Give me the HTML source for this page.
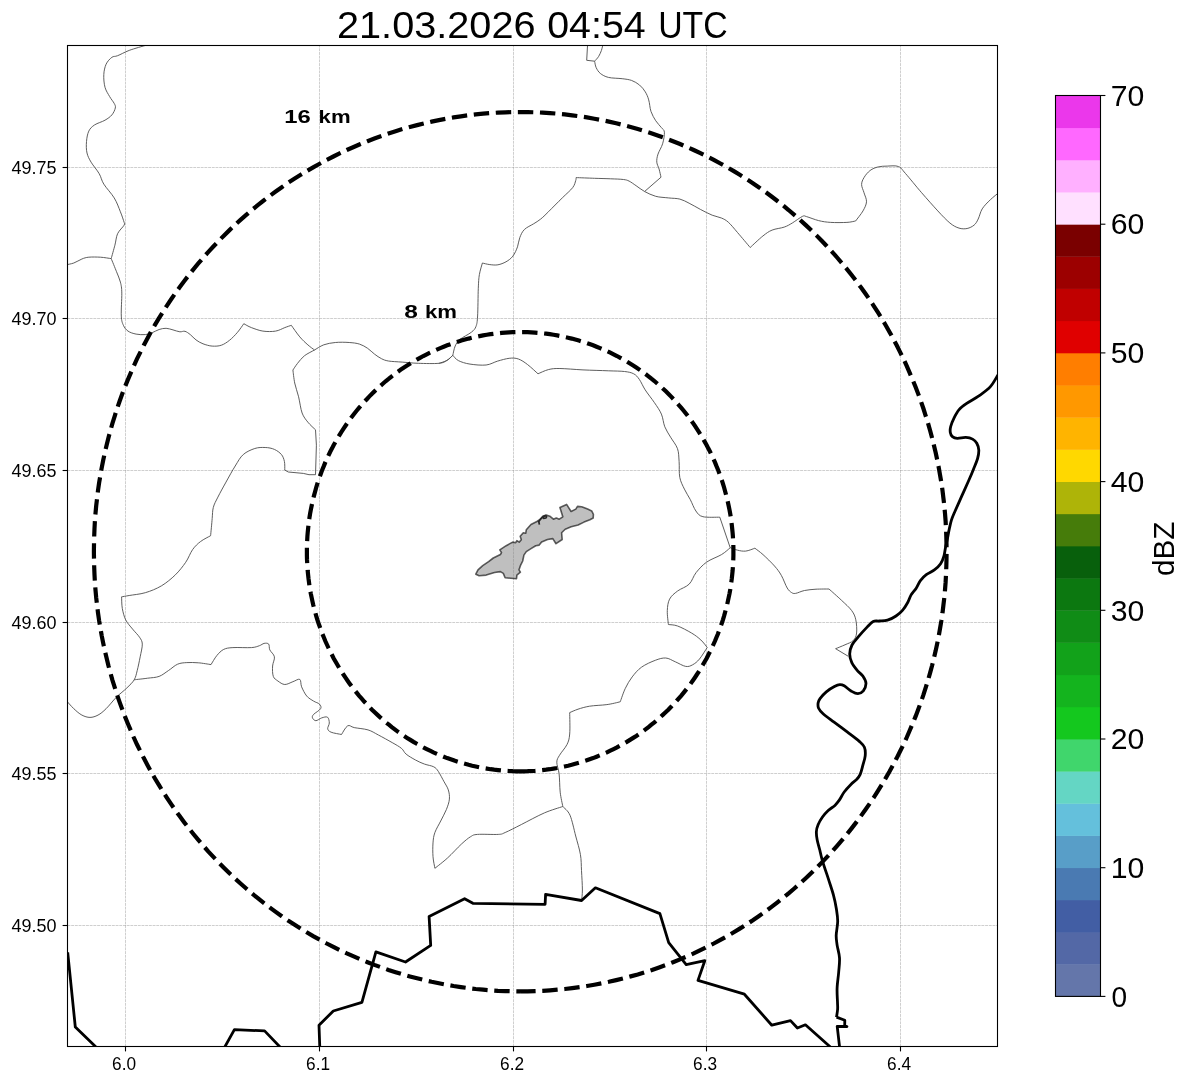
<!DOCTYPE html>
<html><head><meta charset="utf-8"><title>Radar 21.03.2026 04:54 UTC</title>
<style>html,body{margin:0;padding:0;background:#fff;}body{width:1188px;height:1084px;overflow:hidden;font-family:"Liberation Sans",sans-serif;}svg{display:block;will-change:transform;}text{font-family:"Liberation Sans",sans-serif;fill:#000;}</style>
</head><body>
<svg width="1188" height="1084" viewBox="0 0 1188 1084">
<rect x="0" y="0" width="1188" height="1084" fill="#ffffff"/>
<defs><clipPath id="ax"><rect x="67.5" y="45.5" width="930" height="1001"/></clipPath></defs>
<g stroke="#808080" stroke-width="0.7" stroke-dasharray="2.9 0.8" stroke-opacity="0.55" fill="none">
<path d="M125.5 1046.5 V45.5"/>
<path d="M319.5 1046.5 V45.5"/>
<path d="M513.5 1046.5 V45.5"/>
<path d="M706.5 1046.5 V45.5"/>
<path d="M900.5 1046.5 V45.5"/>
<path d="M67.5 925.5 H997.5"/>
<path d="M67.5 773.5 H997.5"/>
<path d="M67.5 622.5 H997.5"/>
<path d="M67.5 470.5 H997.5"/>
<path d="M67.5 318.5 H997.5"/>
<path d="M67.5 167.5 H997.5"/>
</g>
<g clip-path="url(#ax)">
<g stroke="#4c4c4c" stroke-width="0.9" fill="none" stroke-linejoin="round">
<path d="M146.5 45.1 C143.6 46 134 48.6 129.2 50.4 C124.4 52.2 120.5 54.6 117.6 55.7 C114.7 56.9 113.8 55.9 111.9 57.3 C110 58.7 107.4 61.3 106.1 64.2 C104.8 67.1 104 70.8 103.8 74.6 C103.6 78.4 104 83.6 105 87.3 C106 91 108.1 93.8 109.6 96.5 C111.1 99.2 113.2 101.5 114.2 103.4 C115.2 105.3 115.7 106.1 115.3 108 C114.9 109.9 113.6 112.9 111.9 114.9 C110.2 116.9 107.9 118.5 105 120.2 C102.1 121.9 97.3 123.1 94.6 124.9 C91.9 126.7 90.1 128.3 88.8 131.1 C87.5 133.9 86.8 137.8 86.5 141.5 C86.2 145.2 86.2 149.6 87 153 C87.8 156.4 89.1 158.8 91.1 162.2 C93.1 165.6 97.1 170 99.2 173.7 C101.3 177.3 101.3 180.1 103.8 184.1 C106.3 188.1 111.4 193.3 114.2 197.9 C117 202.5 118.8 207.8 120.4 211.8 C122.1 215.9 123.5 220.5 124.1 222.2"/>
<path d="M124.1 222.2 C124.1 222.7 125.2 223.3 124.1 225.2 C123 227.1 119.1 230.4 117.6 233.7 C116.1 237 116 241 114.9 245.2 C113.8 249.3 111.8 256.4 111.2 258.6"/>
<path d="M111.2 258.6 C109.4 258.4 104.1 257.4 100.4 257.2 C96.7 257 91.9 256.9 88.8 257.2 C85.7 257.5 84.4 258 81.9 259 C79.4 260 76.5 262 73.8 263 C71.1 264 67.3 264.5 66 264.8"/>
<path d="M111.2 258.6 C112.1 260.8 115 267.8 116.5 271.7 C118 275.6 119.5 278.5 120.4 282.1 C121.3 285.7 121.7 287.4 121.8 293.1 C121.9 298.8 121 310.7 121.3 316.1 C121.6 321.5 122.3 322.8 123.4 325.3 C124.5 327.8 125.9 329.6 128 331.1 C130.1 332.6 133.2 333.5 136.1 334.1 C139 334.7 142.6 334.8 145.3 334.6 C148 334.4 149.9 333.6 152.2 332.7 C154.5 331.8 156.8 330.2 159.1 329.5 C161.4 328.8 163.8 328.2 166.1 328.3 C168.4 328.4 170.7 329.3 173 329.9 C175.3 330.5 177.9 331.6 179.9 331.8 C181.9 332 183.3 330.8 185 331.3 C186.7 331.8 188.5 333.2 190.3 334.6 C192.1 336 193.9 338.4 196 339.9 C198.1 341.4 200.3 342.8 203 343.8 C205.7 344.8 209.1 345.9 212.2 346.1 C215.3 346.3 218.5 346.2 221.4 345.2 C224.3 344.2 226.8 342.4 229.5 340.3 C232.2 338.2 235.1 335.1 237.5 332.3 C239.9 329.5 242.8 325.1 243.8 323.7"/>
<path d="M243.8 323.7 C245.1 324.4 248.2 326.4 251.4 327.6 C254.6 328.8 258.9 330.5 262.9 331.1 C266.9 331.7 272 331.7 275.6 331.1 C279.2 330.5 282.2 328.6 284.8 327.6 C287.4 326.6 290.2 325.7 291.3 325.3"/>
<path d="M291.3 325.3 C292.7 327.2 297 333.6 299.8 336.9 C302.6 340.2 305.4 342.7 307.9 344.9 C310.3 347.1 313.4 349.1 314.5 350"/>
<path d="M314.5 350 C316.1 349.1 320.3 346.1 323.8 344.8 C327.3 343.6 331.1 342.9 335.3 342.5 C339.5 342.1 345.2 342.2 349.2 342.5 C353.2 342.8 356.4 343.1 359.5 344.1 C362.6 345.1 365.1 346.6 367.6 348.3 C370.1 350 372.2 352.4 374.5 354.1 C376.8 355.8 379.2 357.6 381.5 358.7 C383.8 359.8 384.9 360.4 388.4 361 C391.8 361.6 397.2 361.7 402.2 362.1 C407.2 362.5 412.1 363.1 418.3 363.3 C424.5 363.5 434.3 363.8 439.1 363.3 C443.9 362.8 444.9 361.6 447.2 360.3 C449.5 359 451.9 356.1 452.8 355.3"/>
<path d="M314.5 350 C312.8 351 307.2 353.6 304.4 355.8 C301.6 358 299.4 361 297.5 363.4 C295.6 365.8 293.7 368.9 292.9 370"/>
<path d="M292.9 370 C293.2 372.2 293.8 378.5 294.7 383 C295.6 387.5 297.4 391.8 298.6 396.8 C299.8 401.8 300.6 408.8 302.1 413 C303.7 417.2 305.7 419.4 307.9 422.2 C310.1 425 314.2 428.5 315.5 429.8"/>
<path d="M315.5 429.8 L316.4 445.2 L315.5 474.7 L309 474.7 L303.3 473.4 L288.3 472 L284.8 470.1"/>
<path d="M284.8 470.1 C284.7 468.7 285 464 284.4 461.4 C283.8 458.8 283.1 456.5 281.4 454.5 C279.7 452.5 277.1 450.6 274.4 449.4 C271.7 448.2 268.5 447.6 265.2 447.5 C261.9 447.4 258.4 447.3 254.8 448.5 C251.2 449.7 246.6 451.6 243.3 454.5 C240 457.4 238.1 461.4 235.2 466 C232.3 470.6 228.9 476.9 226 482.1 C223.1 487.3 220 492.9 217.9 497.1 C215.8 501.3 214.2 503.9 213.3 507.5 C212.4 511.1 212.6 513.7 212.2 518.4 C211.8 523.1 210.9 532.8 210.6 535.7"/>
<path d="M210.6 535.7 C208.9 536.7 203.6 539.2 200.6 541.5 C197.6 543.8 195.1 546.1 192.6 549.6 C190.1 553.1 188.6 558.1 185.7 562.3 C182.8 566.5 179.3 571 175.3 574.9 C171.3 578.8 166.5 582.8 161.5 585.8 C156.5 588.8 150.7 591.1 145.3 592.7 C139.9 594.3 133.1 594.8 129.2 595.5 C125.2 596.2 122.9 596.6 121.6 596.8"/>
<path d="M121.6 596.8 C121.7 598.7 121.6 604.5 122.3 608.4 C123 612.2 124 616.4 125.7 619.9 C127.4 623.4 130.3 626.2 132.6 629.1 C134.9 632 137.9 634.7 139.5 637.2 C141.1 639.7 142.2 640.8 142.3 644.1 C142.4 647.4 141 652.4 140.2 656.8 C139.3 661.2 138.2 666.8 137.2 670.6 C136.2 674.4 135.9 676.9 134.2 679.8 C132.5 682.7 129.8 685 126.9 687.9 C124 690.8 120 693.6 116.5 697.1 C113 700.6 109.2 705.7 106.1 708.7 C103 711.7 100.7 713.7 98 715.1 C95.3 716.5 92.7 717.4 90 717.4 C87.3 717.4 84.6 716.5 81.9 715.1 C79.2 713.7 76.5 711.2 73.8 708.7 C71.1 706.2 67.3 701.6 66 700.2"/>
<path d="M134.2 679.8 C136.4 679.5 143.4 678.8 147.6 678.2 C151.8 677.6 155.6 677.7 159.1 676.4 C162.6 675.1 165.3 672.6 168.4 670.6 C171.5 668.6 174.5 665.5 177.6 664.2 C180.7 662.9 183.4 662.8 186.8 662.6 C190.2 662.4 194.3 662.5 198.3 662.8 C202.3 663.1 208.9 664.3 211 664.6"/>
<path d="M211 664.6 C212 663.1 214.7 658.1 216.8 655.6 C218.9 653.1 221 650.7 223.7 649.4 C226.4 648.1 228.3 647.9 232.9 647.6 C237.5 647.3 247 647.9 251.4 647.6 C255.8 647.3 257.3 646.4 259.4 645.7 C261.5 645 262.6 643.7 264.1 643.4 C265.7 643.1 267.8 643 268.7 644.1 C269.6 645.2 268.9 647.8 269.8 649.9 C270.8 652 273.9 654.1 274.4 656.8 C274.9 659.5 272.8 662.7 272.6 666 C272.4 669.3 272.4 673.9 273.3 676.4 C274.2 678.9 276 679.6 277.9 681 C279.8 682.4 282.3 684.4 284.8 684.5 C287.3 684.6 290.4 682.6 292.9 681.7 C295.4 680.9 298.4 678.5 299.8 679.4 C301.2 680.2 300.5 684 301.6 686.8 C302.8 689.6 304.7 693.6 306.7 696 C308.7 698.4 311.5 699.8 313.6 701.1 C315.7 702.5 318.2 702.8 319.4 704.1 C320.6 705.4 321.6 707 320.6 708.7 C319.6 710.4 315 712.9 313.6 714.4 C312.2 715.9 312.1 716.8 312.5 717.9 C312.9 719 314.4 720.7 315.9 720.7 C317.4 720.7 319.8 718.5 321.7 717.9 C323.6 717.3 326.2 716.4 327.5 717.2 C328.8 718.1 329.3 721.1 329.3 723 C329.3 724.9 327.4 727.3 327.7 728.8 C328 730.3 328.8 731.2 331.1 732.2 C333.4 733.2 339.8 734.1 341.5 734.5"/>
<path d="M341.5 734.5 C342.5 733 345.6 726.9 347.7 725.8 C349.8 724.6 350.8 726.9 354.2 727.6 C357.6 728.3 364 728.7 368 729.9 C372 731.1 374.4 732.9 378.4 735 C382.4 737.1 388.3 740.4 392.2 742.6 C396.1 744.8 399.2 746.5 401.5 748.4 C403.8 750.3 403.8 752.2 406.1 754.1 C408.4 756 412.2 758.2 415.3 759.9 C418.4 761.6 421.4 763 424.5 764.1 C427.6 765.2 431.4 765.6 433.7 766.8 C436 768 436.6 768.9 438.3 771.4 C440 773.9 442.4 778.7 444.1 781.8 C445.8 784.9 447.4 787 448.3 789.9 C449.2 792.8 449.7 795.8 449.4 799.1 C449.1 802.4 447.8 805.9 446.4 809.5 C444.9 813.1 442.6 817.2 440.7 821 C438.8 824.8 436.2 828.9 434.9 832.5 C433.6 836.1 433.3 838.9 433 842.9 C432.7 846.9 432.7 852.5 433 856.7 C433.3 860.9 434.6 866.4 434.9 868.3"/>
<path d="M434.9 868.3 C437 866.6 443.2 861.9 447.6 857.9 C452 853.9 457.6 847.6 461.4 844.1 C465.2 840.6 467.9 838.3 470.6 836.7 C473.3 835.1 472.9 834.8 477.5 834.4 C482.1 834 493.7 834.7 498.3 834.4 C502.9 834.1 501.4 834.1 505.2 832.5 C509 830.9 514.9 827.8 521.4 824.5 C527.9 821.2 537.5 815.9 544.4 812.9 C551.3 809.9 559.7 807.6 562.8 806.5"/>
<path d="M730.2 547.7 C728.8 548.9 725.5 552.2 721.5 554.6 C717.5 557 710.7 559.2 706.5 562.2 C702.3 565.2 699 569 696.1 572.6 C693.2 576.2 692.3 581 689.2 584.1 C686.1 587.2 680.9 588.5 677.6 591 C674.3 593.5 671.3 595.8 669.6 599.1 C667.9 602.4 667.5 606.4 667.3 610.6 C667.1 614.8 668.2 622.2 668.4 624.5"/>
<path d="M668.4 624.5 C669.9 624.8 673.8 624.6 677.6 626 C681.5 627.4 687.6 630.7 691.5 633 C695.4 635.3 698.3 637.6 700.9 640 C703.5 642.4 706.2 646.2 707.2 647.5"/>
<path d="M707.2 647.5 C705.9 649.4 701.9 656.1 699.5 659 C697.1 661.9 694.9 663.6 692.6 664.8 C690.3 666 688.6 666.9 685.7 666.4 C682.8 665.9 678.6 663.2 675.3 661.8 C672 660.4 669 658.2 665.7 658 C662.4 657.8 659.3 658.8 655.3 660.3 C651.3 661.8 645.4 664.4 641.5 667.2 C637.6 670 634.9 673.4 632.2 676.9 C629.5 680.4 627.3 684.2 625.3 688.4 C623.3 692.5 621.1 699.6 620.2 701.8"/>
<path d="M620.2 701.8 C618 702.3 612 703.9 606.9 704.6 C601.8 705.3 594.4 705.4 589.6 706.2 C584.8 707 581.3 708.1 578 709.2 C574.7 710.3 571.1 712 569.7 712.6"/>
<path d="M569.7 712.6 C569.7 716.2 570.2 728.7 569.7 734 C569.2 739.3 568.7 741 567 744.5 C565.3 748 561.2 752.3 559.5 755.3 C557.8 758.2 556.9 759.1 556.8 762.2 C556.7 765.3 558.5 768.7 559.1 773.7 C559.7 778.7 559.6 786.7 560.2 792.2 C560.8 797.7 562.4 804.1 562.8 806.5"/>
<path d="M562.8 806.5 C564 808 567.9 810.3 570 815.2 C572.1 820.1 574 829.5 575.7 836 C577.4 842.5 579.4 848.6 580.4 854.4 C581.4 860.2 581.2 864.7 581.5 870.6 C581.8 876.5 582.4 885 582.4 890 C582.4 895 581.7 898.8 581.6 900.5"/>
<path d="M452.8 355.3 C453.2 353.8 454 348.6 455.2 346 C456.4 343.4 457.1 341.8 459.8 339.5 C462.5 337.2 468.7 334.4 471.4 332.2 C474.1 330 475 329.1 476 326.4 C477 323.7 477.2 322.4 477.6 316 C478 309.6 478 295.2 478.3 288.3 C478.6 281.4 478.7 278.7 479.4 274.5 C480.1 270.3 481.9 264.9 482.4 263"/>
<path d="M482.4 263 C483.6 263.3 487.2 264.3 489.8 264.6 C492.4 264.9 495.2 265.3 497.9 264.8 C500.6 264.3 503.5 263.2 506 261.8 C508.5 260.4 511 258.6 512.9 256.1 C514.8 253.6 516.4 249.9 517.5 246.8 C518.6 243.7 518.6 240.5 519.8 237.6 C520.9 234.7 522.1 231.8 524.4 229.5 C526.7 227.2 530.9 225.5 533.6 223.8 C536.3 222.1 538 221.2 540.5 219.2 C543 217.2 544.8 215.4 548.4 211.8 C552 208.2 558.2 201.9 562.3 197.9 C566.3 193.9 570.5 190.5 572.7 187.6 C574.9 184.7 575.1 182.3 575.7 180.6 C576.3 178.9 576 178.1 576.1 177.6"/>
<path d="M576.1 177.6 C579.2 177.7 588.8 178.1 594.6 178.3 C600.4 178.5 605.9 178.6 610.7 178.8 C615.5 179 620.3 179.1 623.4 179.5 C626.5 179.9 627 180.1 629.1 181.1 C631.2 182.1 633.5 184 636.1 185.7 C638.7 187.4 641.3 189.7 644.6 191.5 C647.9 193.3 651.8 195.2 655.7 196.3 C659.7 197.4 664.3 197.4 668.3 197.9 C672.3 198.4 676.4 198.2 679.9 199.1 C683.4 200 685.6 201.5 689.1 203.2 C692.6 204.9 696.8 207.5 700.6 209.5 C704.5 211.5 708.7 213.8 712.2 215.2 C715.7 216.6 718.7 216.8 721.4 218 C724.1 219.2 725.6 219.8 728.3 222.2 C731 224.6 733.9 228.3 737.5 232.5 C741.1 236.7 748.1 245 750.2 247.5"/>
<path d="M750.2 247.5 C752.3 245.6 759.2 238.9 762.9 236 C766.5 233.1 768.5 231.6 772.1 230.1 C775.7 228.6 780.8 228.3 784.2 227.1 C787.6 225.9 789.3 224.8 792.3 223 C795.3 221.2 800 217.5 802.4 216.4 C804.8 215.3 803.8 215.9 806.5 216.6 C809.2 217.3 814.6 219.6 818.6 220.6 C822.6 221.6 826 222.1 830.7 222.4 C835.4 222.7 842.8 222.6 846.9 222.4 C851 222.2 854.1 221.2 855.6 221"/>
<path d="M855.6 221 C856.8 219.3 861.2 214.1 863 210.9 C864.8 207.7 866.3 204.8 866.5 201.8 C866.7 198.8 864.8 195.6 864 192.7 C863.2 189.8 861.6 187.1 861.6 184.6 C861.6 182.1 862.6 179.9 864 177.6 C865.4 175.2 867.7 172.3 870.1 170.5 C872.5 168.7 875.3 167.6 878.2 166.9 C881.1 166.2 883.9 166.2 887.3 166.1 C890.7 166 895.4 165.3 898.4 166.5 C901.4 167.7 901.6 169.1 905.5 173.5 C909.4 177.9 916.2 186.5 921.6 192.7 C927 198.9 933.1 205.8 937.8 210.9 C942.5 216 946.4 220.1 949.9 223 C953.4 225.9 956.1 227.2 959 228.1 C961.9 229 964.6 229 967.1 228.5 C969.6 228 972.2 226.7 974.1 225.1 C976 223.5 976.9 221.7 978.2 219 C979.6 216.3 980.2 212.1 982.2 208.9 C984.2 205.7 987.5 202.5 990.3 199.8 C993.1 197.1 997.5 193.7 999 192.5"/>
<path d="M452.8 355.3 C451.8 356.1 449.2 359.1 446.9 360.4 C444.6 361.7 440.4 362.8 439.1 363.3"/>
<path d="M452.8 355.3 C453.7 356.2 455.5 359.1 458.4 360.6 C461.3 362.1 465.4 363.4 470 364.1 C474.6 364.8 481.5 365.5 486.1 365 C490.7 364.5 493.8 362.2 497.6 361.1 C501.5 360 505.7 358.7 509.2 358.3 C512.7 357.9 515.3 357.9 518.4 359 C521.5 360.1 524.3 362.1 527.6 364.6 C530.9 367.1 536.3 372.3 538 373.8"/>
<path d="M538 373.8 C539.7 373.1 544.8 370.5 548.4 369.6 C552 368.7 554.1 368.4 559.9 368.5 C565.7 368.6 574.9 369.5 583 369.9 C591.1 370.3 601.4 370.5 608.3 370.8 C615.2 371.1 620.3 371 624.5 371.5 C628.7 372 631.2 372.5 633.7 373.8 C636.2 375.1 637.5 376.8 639.4 379.5 C641.3 382.2 642.7 386 645.2 389.9 C647.7 393.8 651.7 398.6 654.4 402.6 C657.1 406.6 659.7 410.1 661.4 414.1 C663.1 418.1 663.3 423 664.8 426.8 C666.3 430.6 668.5 433.6 670.6 437.2 C672.7 440.8 676.1 444.7 677.5 448.7 C678.9 452.7 678.7 456.6 679.1 461.4 C679.5 466.2 678.9 472.9 679.8 477.5 C680.7 482.1 682.7 485.5 684.4 489.1 C686.1 492.8 688.3 495.8 690.2 499.4 C692.1 503 693.8 508.1 695.9 511 C698 513.9 698.9 515.7 702.9 516.7 C706.9 517.7 717 517.1 719.8 517.2"/>
<path d="M719.8 517.2 L730.2 547.7"/>
<path d="M730.2 547.7 C731.4 548.1 735 549.6 737.6 550.2 C740.2 550.8 742.8 551.4 745.7 551.1 C748.6 550.8 753.4 548.7 754.9 548.2"/>
<path d="M754.9 548.2 C756.2 549.3 759.7 551.6 763 554.6 C766.3 557.6 771.4 562.5 774.5 566 C777.6 569.5 779.3 571.8 781.4 575.5 C783.5 579.2 785.5 585.2 787.2 588 C788.9 590.8 790.1 591.6 791.5 592.5 C792.9 593.4 793.3 593.7 795.5 593.4 C797.7 593.1 801.1 591.2 804.5 590.5 C807.9 589.8 811.9 589.5 816 589.2 C820.1 589 826.8 589 829 589"/>
<path d="M829 589 C831.1 590.9 837.6 596.6 841.4 600.2 C845.2 603.8 849.3 607.3 851.7 610.6 C854.1 613.9 855 616.1 855.8 619.8 C856.6 623.5 857 629.5 856.6 633 C856.2 636.5 855.1 638.6 853.2 640.6 C851.3 642.6 847.9 643.4 845 644.8 C842.1 646.1 837.2 648.1 835.6 648.7"/>
<path d="M835.6 648.7 L848.3 656.3"/>
<path d="M587.6 44 L586.7 60.3 L594.6 61.2"/>
<path d="M594.6 61.2 C595.3 60.4 597.5 58.3 598.6 56.5 C599.7 54.7 600.6 52.6 601.4 50.5 C602.1 48.4 602.8 45.1 603.1 44"/>
<path d="M594.6 61.2 C594.9 62.3 595.2 65.7 596.2 67.7 C597.2 69.7 598.3 71.8 600.3 73.4 C602.3 75 604.8 76.5 608.4 77.4 C612 78.3 618.4 78.2 622.2 78.7 C626.1 79.2 628.6 79.4 631.5 80.4 C634.4 81.5 637.2 83.1 639.5 85 C641.8 86.9 643.8 89.4 645.3 91.9 C646.8 94.4 647.8 96.6 648.7 99.9 C649.7 103.2 649.8 108 651 111.5 C652.2 115 654 118 655.7 120.7 C657.4 123.4 660 125.7 661.4 127.6 C662.8 129.5 664.2 129.5 664.4 132.2 C664.6 134.9 663.7 140.2 662.6 143.8 C661.5 147.5 659 151 658 154.1 C657 157.2 656.6 159.7 656.8 162.2 C657 164.7 658.4 166.6 659.1 169.1 C659.8 171.6 660.7 175.8 661 177.2"/>
<path d="M661 177.2 L644.6 191.5"/>
</g>
<path d="M475.8 574.2 L478 569.8 L482.7 565.7 L488.6 561.6 L493.3 558 L500.4 554.5 L501.5 552.7 L499.8 549.8 L506.2 545.7 L512.7 542.1 L515.7 542.7 L516.9 540.7 L519.2 542.1 L521.3 539.8 L520.2 536.2 L523.3 532.7 L525.7 533.3 L526.3 529.8 L531 524.5 L536.9 521.5 L540.4 519.2 L542.8 516.2 L546.3 515 L549.8 516.2 L553.4 519.2 L556.3 518 L559.3 519.2 L562.8 516.8 L559.9 507.4 L566.6 504.4 L571.1 511.5 L575.8 509.1 L577.5 506.4 L581.7 506.8 L587.6 509.1 L591.7 510.9 L593.4 514.4 L593.2 518 L589.9 519.7 L584 522.1 L578.1 525 L571.1 526.8 L565.2 529.2 L561.6 532.7 L562.2 539.5 L556 543.7 L552.8 538.6 L547.5 539.5 L541.6 542.1 L539.2 545.1 L535.7 545.7 L531 548.6 L526.3 551.6 L523.9 555.1 L522.7 561 L520.4 565.7 L519 569.8 L520.4 572.2 L516.9 575.1 L516.5 578.7 L505.1 577.8 L503.3 573.4 L500.4 571.6 L494.5 572.5 L486.2 575.1 L479.1 575.7 Z" fill="#808080" fill-opacity="0.5" stroke="#000" stroke-opacity="0.62" stroke-width="1.6" stroke-linejoin="round"/>
<path d="M539.4 524.6 L538.8 521.6 L541 518.6 L543.2 516.6 L545.6 515.6 L546.6 516.6 L546 518 L543.6 518.4 L543.4 516.8" fill="none" stroke="#262626" stroke-width="1.7" stroke-linejoin="round"/>
<g stroke="#000" stroke-width="2.8" fill="none" stroke-linejoin="round" stroke-linecap="butt">
<path d="M999 373 C998.8 373.4 999.3 372.9 997.8 375.2 C996.3 377.5 993.4 383.4 990.2 386.9 C987 390.4 982.4 393.4 978.5 396.2 C974.6 398.9 969.9 401.1 966.7 403.4 C963.5 405.6 961.2 407.2 959.1 409.7 C957 412.1 955.4 415.3 954 418.1 C952.6 420.9 951.3 424.1 950.7 426.5 C950.1 428.9 950 430.7 950.3 432.4 C950.6 434.1 951.2 435.6 952.4 436.6 C953.6 437.6 955.2 438.2 957.4 438.3 C959.6 438.4 963.3 437.3 965.8 437.4 C968.3 437.5 970.8 438.1 972.6 439.1 C974.4 440.1 975.8 441.5 976.8 443.3 C977.8 445.1 978.7 447.6 978.8 450.1 C978.9 452.6 978.5 455.3 977.6 458.5 C976.7 461.7 974.9 465.6 973.4 469.4 C971.9 473.2 970.4 476.7 968.4 481.2 C966.4 485.7 963.9 491.3 961.6 496.4 C959.4 501.4 956.6 507.6 954.9 511.5 C953.2 515.4 952.4 517.1 951.5 519.9 C950.6 522.7 950.1 525.3 949.4 528.4 C948.7 531.5 948.1 535.4 947.5 538.5 C946.9 541.6 946.2 543.9 945.6 546.9 C945 549.9 944.7 553.4 943.9 556.2 C943.1 559 942.1 561.5 940.6 563.8 C939.1 566 937.1 567.9 934.7 569.7 C932.3 571.5 928.7 572.9 926.3 574.7 C923.9 576.5 922.1 578.4 920.4 580.6 C918.7 582.9 917.8 585.8 916.2 588.2 C914.7 590.6 912.5 592.5 911.1 594.9 C909.7 597.3 909.1 600 907.7 602.5 C906.3 605 904.7 607.9 902.7 610.1 C900.8 612.4 898.5 614.3 896 616 C893.5 617.7 890.3 619.4 887.5 620.2 C884.7 621 881.5 620.8 879.1 621 C876.7 621.2 875.2 620.5 873.2 621.5 C871.2 622.5 869.7 624.4 867.3 626.9 C864.9 629.4 861.4 633.2 858.9 636.2 C856.4 639.2 853.5 642 852 645 C850.5 648 849.7 651.1 849.7 654 C849.7 656.9 850.5 659.8 851.8 662.6 C853.1 665.4 855.7 668.5 857.6 670.8 C859.5 673.1 861.6 674.2 863 676.3 C864.4 678.4 866 681.2 866 683.6 C866 686 864.6 689.1 863.3 690.8 C861.9 692.5 859.9 693.6 857.9 693.7 C855.9 693.8 853.7 692.5 851.4 691.2 C849.1 689.9 846.1 686.9 844.2 685.8 C842.3 684.7 841.4 684.5 839.8 684.6 C838.2 684.7 836.6 685.4 834.4 686.6 C832.1 687.8 828.7 689.9 826.3 691.9 C823.9 693.9 821.4 696.8 820 698.6 C818.6 700.5 818.3 701.4 818.1 703 C817.9 704.6 817.8 706.5 818.6 708.3 C819.4 710.1 820.5 711.4 823.1 713.7 C825.7 716 830 719 834.1 722.1 C838.2 725.2 843.3 729 847.5 732.2 C851.7 735.4 856.5 738.9 859.3 741.4 C862.1 743.9 863.4 744.9 864.4 747.3 C865.4 749.7 865.5 752.7 865.2 755.8 C864.9 758.9 863.5 762.8 862.7 765.9 C861.9 769 861.2 772.1 860.2 774.3 C859.2 776.5 858.3 777.6 856.8 779.3 C855.2 781 853 782.3 850.9 784.4 C848.8 786.5 846.2 789.3 844.2 792 C842.2 794.7 840.7 798.2 839.1 800.4 C837.5 802.6 836.7 803.7 834.9 805.4 C833.1 807.1 830.3 808.5 828.2 810.5 C826.1 812.5 824 814.8 822.3 817.2 C820.6 819.6 819.1 822.4 818.1 824.8 C817.1 827.2 816.5 829 816.4 831.5 C816.2 834 816.6 836.8 817.2 839.9 C817.8 843 818.9 846.6 819.8 850 C820.6 853.4 820.9 855.5 822.3 860.3 C823.7 865.1 826.4 872.9 828.3 878.6 C830.1 884.4 832 889.7 833.4 894.8 C834.8 899.9 835.7 904.6 836.4 909 C837.1 913.4 837.7 916.8 837.7 921.2 C837.7 925.6 836.3 931.3 836.2 935.4 C836.1 939.5 836.7 941.9 837.2 945.6 C837.8 949.3 839.2 953.4 839.5 957.8 C839.8 962.2 839.1 966.9 838.7 972 C838.3 977.1 837.3 983.1 837.1 988.2 C836.9 993.3 837.4 998.9 837.5 1002.4 C837.6 1005.9 837.8 1007 837.6 1009.5 C837.4 1012 836.7 1015.8 836.5 1017.1"/>
<path d="M836.5 1017.1 L844.8 1020.2 L844.7 1025.8 L846.9 1026.5 L837.2 1026.3 L839.7 1048"/>
<path d="M319.8 1048 L319 1025.2 L333.3 1011 L361.9 1002.3 L375.9 951.9 L405.5 962 L430.7 945.4 L429.1 916.5 L464.6 898.7 L472.9 903.3 L545.1 904.3 L545.6 894.4 L581.6 900.5 L595.4 887.8 L659.9 913.6 L668.7 942.7 L686.2 964.6 L704.8 960.7 L698 980.4 L744.4 994.2 L771.8 1025.2 L790.5 1020.6 L797.4 1028 L805.4 1024.8 L831.5 1048"/>
<path d="M67.7 952.3 L75.3 1027 L97 1048"/>
<path d="M224.2 1048 L234.4 1029.6 L264.6 1030.9 L281 1048"/>
</g>
<g stroke="#000" stroke-width="4.2" fill="none" stroke-dasharray="15.42 6.67">
<path d="M520.2 991.4 L527.7 991.3 L535.1 991.1 L542.6 990.8 L550 990.3 L557.4 989.7 L564.8 989 L572.2 988.1 L579.6 987.1 L586.9 986 L594.3 984.7 L601.6 983.3 L608.9 981.8 L616.2 980.1 L623.4 978.3 L630.6 976.4 L637.8 974.4 L644.9 972.2 L652 969.9 L659.1 967.4 L666.1 964.9 L673 962.2 L680 959.4 L686.8 956.4 L693.7 953.4 L700.4 950.2 L707.1 946.9 L713.8 943.5 L720.4 939.9 L726.9 936.3 L733.4 932.5 L739.8 928.6 L746.2 924.6 L752.5 920.5 L758.7 916.2 L764.8 911.9 L770.9 907.4 L776.8 902.9 L782.7 898.2 L788.6 893.4 L794.3 888.5 L800 883.5 L805.5 878.5 L811 873.3 L816.4 868 L821.7 862.6 L826.9 857.1 L832.1 851.6 L837.1 845.9 L842 840.2 L846.9 834.3 L851.6 828.4 L856.2 822.4 L860.7 816.3 L865.2 810.1 L869.5 803.9 L873.7 797.6 L877.8 791.2 L881.8 784.7 L885.7 778.2 L889.5 771.6 L893.1 764.9 L896.7 758.1 L900.1 751.3 L903.5 744.5 L906.7 737.5 L909.7 730.5 L912.7 723.5 L915.6 716.4 L918.3 709.3 L920.9 702.1 L923.4 694.9 L925.7 687.6 L928 680.3 L930.1 672.9 L932.1 665.5 L933.9 658.1 L935.7 650.6 L937.3 643.1 L938.8 635.6 L940.1 628.1 L941.4 620.5 L942.5 612.9 L943.4 605.3 L944.3 597.7 L945 590 L945.6 582.4 L946 574.7 L946.3 567 L946.5 559.4 L946.6 551.7 L946.5 544 L946.3 536.4 L946 528.7 L945.6 521 L945 513.4 L944.3 505.7 L943.4 498.1 L942.5 490.5 L941.4 482.9 L940.1 475.3 L938.8 467.8 L937.3 460.3 L935.7 452.8 L933.9 445.3 L932.1 437.9 L930.1 430.5 L928 423.1 L925.7 415.8 L923.4 408.5 L920.9 401.3 L918.3 394.1 L915.6 387 L912.7 379.9 L909.7 372.9 L906.7 365.9 L903.5 358.9 L900.1 352.1 L896.7 345.3 L893.1 338.5 L889.5 331.9 L885.7 325.2 L881.8 318.7 L877.8 312.2 L873.7 305.8 L869.5 299.5 L865.2 293.3 L860.7 287.1 L856.2 281 L851.6 275 L846.9 269.1 L842 263.2 L837.1 257.5 L832.1 251.8 L826.9 246.3 L821.7 240.8 L816.4 235.4 L811 230.1 L805.5 224.9 L800 219.9 L794.3 214.9 L788.6 210 L782.7 205.2 L776.8 200.5 L770.9 196 L764.8 191.5 L758.7 187.2 L752.5 182.9 L746.2 178.8 L739.8 174.8 L733.4 170.9 L726.9 167.1 L720.4 163.5 L713.8 159.9 L707.1 156.5 L700.4 153.2 L693.7 150 L686.8 147 L680 144 L673 141.2 L666.1 138.5 L659.1 136 L652 133.5 L644.9 131.2 L637.8 129 L630.6 127 L623.4 125.1 L616.2 123.3 L608.9 121.6 L601.6 120.1 L594.3 118.7 L586.9 117.4 L579.6 116.3 L572.2 115.3 L564.8 114.4 L557.4 113.7 L550 113.1 L542.6 112.6 L535.1 112.3 L527.7 112.1 L520.2 112 L512.8 112.1 L505.4 112.3 L497.9 112.6 L490.5 113.1 L483.1 113.7 L475.7 114.4 L468.3 115.3 L460.9 116.3 L453.6 117.4 L446.2 118.7 L438.9 120.1 L431.6 121.6 L424.3 123.3 L417.1 125.1 L409.9 127 L402.7 129 L395.6 131.2 L388.5 133.5 L381.4 136 L374.4 138.5 L367.5 141.2 L360.5 144 L353.7 147 L346.8 150 L340.1 153.2 L333.4 156.5 L326.7 159.9 L320.1 163.5 L313.6 167.1 L307.1 170.9 L300.7 174.8 L294.3 178.8 L288 182.9 L281.8 187.2 L275.7 191.5 L269.6 196 L263.7 200.5 L257.8 205.2 L251.9 210 L246.2 214.9 L240.5 219.9 L235 224.9 L229.5 230.1 L224.1 235.4 L218.8 240.8 L213.6 246.3 L208.4 251.8 L203.4 257.5 L198.5 263.2 L193.6 269.1 L188.9 275 L184.3 281 L179.8 287.1 L175.3 293.3 L171 299.5 L166.8 305.8 L162.7 312.2 L158.7 318.7 L154.8 325.2 L151 331.8 L147.4 338.5 L143.8 345.3 L140.4 352.1 L137 358.9 L133.8 365.9 L130.8 372.9 L127.8 379.9 L124.9 387 L122.2 394.1 L119.6 401.3 L117.1 408.5 L114.8 415.8 L112.5 423.1 L110.4 430.5 L108.4 437.9 L106.6 445.3 L104.8 452.8 L103.2 460.3 L101.7 467.8 L100.4 475.3 L99.1 482.9 L98 490.5 L97.1 498.1 L96.2 505.7 L95.5 513.4 L94.9 521 L94.5 528.7 L94.2 536.4 L94 544 L93.9 551.7 L94 559.4 L94.2 567 L94.5 574.7 L94.9 582.4 L95.5 590 L96.2 597.7 L97.1 605.3 L98 612.9 L99.1 620.5 L100.4 628.1 L101.7 635.6 L103.2 643.1 L104.8 650.6 L106.6 658.1 L108.4 665.5 L110.4 672.9 L112.5 680.3 L114.8 687.6 L117.1 694.9 L119.6 702.1 L122.2 709.3 L124.9 716.4 L127.8 723.5 L130.8 730.5 L133.8 737.5 L137 744.5 L140.4 751.3 L143.8 758.1 L147.4 764.9 L151 771.6 L154.8 778.2 L158.7 784.7 L162.7 791.2 L166.8 797.6 L171 803.9 L175.3 810.1 L179.8 816.3 L184.3 822.4 L188.9 828.4 L193.6 834.3 L198.5 840.2 L203.4 845.9 L208.4 851.6 L213.6 857.1 L218.8 862.6 L224.1 868 L229.5 873.3 L235 878.5 L240.5 883.5 L246.2 888.5 L251.9 893.4 L257.8 898.2 L263.7 902.9 L269.6 907.4 L275.7 911.9 L281.8 916.2 L288 920.5 L294.3 924.6 L300.7 928.6 L307.1 932.5 L313.6 936.3 L320.1 939.9 L326.7 943.5 L333.4 946.9 L340.1 950.2 L346.8 953.4 L353.7 956.4 L360.5 959.4 L367.5 962.2 L374.4 964.9 L381.4 967.4 L388.5 969.9 L395.6 972.2 L402.7 974.4 L409.9 976.4 L417.1 978.3 L424.3 980.1 L431.6 981.8 L438.9 983.3 L446.2 984.7 L453.6 986 L460.9 987.1 L468.3 988.1 L475.7 989 L483.1 989.7 L490.5 990.3 L497.9 990.8 L505.4 991.1 L512.8 991.3 L520.2 991.4"/>
<path d="M520.1 771.3 L523.9 771.3 L527.6 771.2 L531.3 771 L535 770.8 L538.7 770.5 L542.4 770.1 L546.1 769.7 L549.8 769.2 L553.5 768.6 L557.2 768 L560.8 767.3 L564.5 766.5 L568.1 765.7 L571.7 764.8 L575.3 763.8 L578.9 762.8 L582.5 761.7 L586 760.6 L589.6 759.3 L593.1 758.1 L596.6 756.7 L600 755.3 L603.5 753.8 L606.9 752.3 L610.3 750.7 L613.6 749.1 L617 747.4 L620.3 745.6 L623.5 743.8 L626.8 741.9 L630 739.9 L633.2 737.9 L636.3 735.9 L639.4 733.8 L642.5 731.6 L645.5 729.4 L648.5 727.1 L651.4 724.7 L654.4 722.4 L657.2 719.9 L660.1 717.4 L662.8 714.9 L665.6 712.3 L668.3 709.7 L670.9 707 L673.5 704.2 L676.1 701.5 L678.6 698.6 L681.1 695.8 L683.5 692.9 L685.9 689.9 L688.2 686.9 L690.5 683.9 L692.7 680.8 L694.8 677.7 L696.9 674.5 L699 671.3 L701 668.1 L702.9 664.8 L704.8 661.5 L706.7 658.2 L708.4 654.8 L710.2 651.4 L711.8 648 L713.4 644.5 L715 641 L716.4 637.5 L717.9 634 L719.2 630.4 L720.5 626.8 L721.8 623.2 L723 619.6 L724.1 615.9 L725.1 612.2 L726.1 608.5 L727.1 604.8 L727.9 601.1 L728.7 597.4 L729.5 593.6 L730.2 589.8 L730.8 586.1 L731.3 582.3 L731.8 578.5 L732.2 574.7 L732.6 570.8 L732.9 567 L733.1 563.2 L733.3 559.4 L733.4 555.5 L733.4 551.7 L733.4 547.9 L733.3 544 L733.1 540.2 L732.9 536.4 L732.6 532.6 L732.2 528.7 L731.8 524.9 L731.3 521.1 L730.8 517.3 L730.2 513.6 L729.5 509.8 L728.7 506 L727.9 502.3 L727.1 498.6 L726.1 494.9 L725.1 491.2 L724.1 487.5 L723 483.8 L721.8 480.2 L720.5 476.6 L719.2 473 L717.9 469.4 L716.4 465.9 L715 462.4 L713.4 458.9 L711.8 455.4 L710.2 452 L708.4 448.6 L706.7 445.2 L704.8 441.9 L702.9 438.6 L701 435.3 L699 432.1 L696.9 428.9 L694.8 425.7 L692.7 422.6 L690.5 419.5 L688.2 416.5 L685.9 413.5 L683.5 410.5 L681.1 407.6 L678.6 404.8 L676.1 401.9 L673.5 399.2 L670.9 396.4 L668.3 393.7 L665.6 391.1 L662.8 388.5 L660.1 386 L657.2 383.5 L654.4 381 L651.4 378.7 L648.5 376.3 L645.5 374 L642.5 371.8 L639.4 369.6 L636.3 367.5 L633.2 365.5 L630 363.5 L626.8 361.5 L623.5 359.6 L620.3 357.8 L617 356 L613.6 354.3 L610.3 352.7 L606.9 351.1 L603.5 349.6 L600 348.1 L596.6 346.7 L593.1 345.3 L589.6 344.1 L586 342.8 L582.5 341.7 L578.9 340.6 L575.3 339.6 L571.7 338.6 L568.1 337.7 L564.5 336.9 L560.8 336.1 L557.2 335.4 L553.5 334.8 L549.8 334.2 L546.1 333.7 L542.4 333.3 L538.7 332.9 L535 332.6 L531.3 332.4 L527.6 332.2 L523.9 332.1 L520.1 332.1 L516.4 332.1 L512.7 332.2 L509 332.4 L505.3 332.6 L501.6 332.9 L497.9 333.3 L494.2 333.7 L490.5 334.2 L486.8 334.8 L483.1 335.4 L479.5 336.1 L475.8 336.9 L472.2 337.7 L468.6 338.6 L465 339.6 L461.4 340.6 L457.8 341.7 L454.3 342.8 L450.7 344.1 L447.2 345.3 L443.7 346.7 L440.3 348.1 L436.8 349.6 L433.4 351.1 L430 352.7 L426.7 354.3 L423.3 356 L420 357.8 L416.8 359.6 L413.5 361.5 L410.3 363.5 L407.1 365.5 L404 367.5 L400.9 369.6 L397.8 371.8 L394.8 374 L391.8 376.3 L388.9 378.7 L385.9 381 L383.1 383.5 L380.2 386 L377.5 388.5 L374.7 391.1 L372 393.7 L369.4 396.4 L366.8 399.2 L364.2 401.9 L361.7 404.8 L359.2 407.6 L356.8 410.5 L354.4 413.5 L352.1 416.5 L349.8 419.5 L347.6 422.6 L345.5 425.7 L343.4 428.9 L341.3 432.1 L339.3 435.3 L337.4 438.6 L335.5 441.9 L333.6 445.2 L331.9 448.6 L330.1 452 L328.5 455.4 L326.9 458.9 L325.3 462.4 L323.9 465.9 L322.4 469.4 L321.1 473 L319.8 476.6 L318.5 480.2 L317.3 483.8 L316.2 487.5 L315.2 491.2 L314.2 494.9 L313.2 498.6 L312.4 502.3 L311.6 506 L310.8 509.8 L310.1 513.6 L309.5 517.3 L309 521.1 L308.5 524.9 L308.1 528.7 L307.7 532.6 L307.4 536.4 L307.2 540.2 L307 544 L306.9 547.9 L306.9 551.7 L306.9 555.5 L307 559.4 L307.2 563.2 L307.4 567 L307.7 570.8 L308.1 574.7 L308.5 578.5 L309 582.3 L309.5 586.1 L310.1 589.8 L310.8 593.6 L311.6 597.4 L312.4 601.1 L313.2 604.8 L314.2 608.5 L315.2 612.2 L316.2 615.9 L317.3 619.6 L318.5 623.2 L319.8 626.8 L321.1 630.4 L322.4 634 L323.9 637.5 L325.3 641 L326.9 644.5 L328.5 648 L330.1 651.4 L331.9 654.8 L333.6 658.2 L335.5 661.5 L337.4 664.8 L339.3 668.1 L341.3 671.3 L343.4 674.5 L345.5 677.7 L347.6 680.8 L349.8 683.9 L352.1 686.9 L354.4 689.9 L356.8 692.9 L359.2 695.8 L361.7 698.6 L364.2 701.5 L366.8 704.2 L369.4 707 L372 709.7 L374.7 712.3 L377.5 714.9 L380.2 717.4 L383.1 719.9 L385.9 722.4 L388.9 724.7 L391.8 727.1 L394.8 729.4 L397.8 731.6 L400.9 733.8 L404 735.9 L407.1 737.9 L410.3 739.9 L413.5 741.9 L416.8 743.8 L420 745.6 L423.3 747.4 L426.7 749.1 L430 750.7 L433.4 752.3 L436.8 753.8 L440.3 755.3 L443.7 756.7 L447.2 758.1 L450.7 759.3 L454.3 760.6 L457.8 761.7 L461.4 762.8 L465 763.8 L468.6 764.8 L472.2 765.7 L475.8 766.5 L479.5 767.3 L483.1 768 L486.8 768.6 L490.5 769.2 L494.2 769.7 L497.9 770.1 L501.6 770.5 L505.3 770.8 L509 771 L512.7 771.2 L516.4 771.3 L520.1 771.3"/>
</g>
</g>
<rect x="67.5" y="45.5" width="930" height="1001" fill="none" stroke="#000" stroke-width="1.1"/>
<g stroke="#000" stroke-width="1.1">
<path d="M125.5 1046.5 v4.9"/>
<path d="M319.5 1046.5 v4.9"/>
<path d="M513.5 1046.5 v4.9"/>
<path d="M706.5 1046.5 v4.9"/>
<path d="M900.5 1046.5 v4.9"/>
<path d="M67.5 925.5 h-4.9"/>
<path d="M67.5 773.5 h-4.9"/>
<path d="M67.5 622.5 h-4.9"/>
<path d="M67.5 470.5 h-4.9"/>
<path d="M67.5 318.5 h-4.9"/>
<path d="M67.5 167.5 h-4.9"/>
</g>
<g font-size="18">
<text x="124.1" y="1070" text-anchor="middle" textLength="24" lengthAdjust="spacingAndGlyphs">6.0</text>
<text x="318.1" y="1070" text-anchor="middle" textLength="24" lengthAdjust="spacingAndGlyphs">6.1</text>
<text x="512.1" y="1070" text-anchor="middle" textLength="24" lengthAdjust="spacingAndGlyphs">6.2</text>
<text x="705.1" y="1070" text-anchor="middle" textLength="24" lengthAdjust="spacingAndGlyphs">6.3</text>
<text x="899.1" y="1070" text-anchor="middle" textLength="24" lengthAdjust="spacingAndGlyphs">6.4</text>
<text x="56.4" y="932.1" text-anchor="end" textLength="45" lengthAdjust="spacingAndGlyphs">49.50</text>
<text x="56.4" y="780.1" text-anchor="end" textLength="45" lengthAdjust="spacingAndGlyphs">49.55</text>
<text x="56.4" y="629.1" text-anchor="end" textLength="45" lengthAdjust="spacingAndGlyphs">49.60</text>
<text x="56.4" y="477.1" text-anchor="end" textLength="45" lengthAdjust="spacingAndGlyphs">49.65</text>
<text x="56.4" y="325.1" text-anchor="end" textLength="45" lengthAdjust="spacingAndGlyphs">49.70</text>
<text x="56.4" y="174.1" text-anchor="end" textLength="45" lengthAdjust="spacingAndGlyphs">49.75</text>
</g>
<g font-size="37">
<text x="337" y="38.2" textLength="198.5" lengthAdjust="spacingAndGlyphs">21.03.2026</text>
<text x="547.2" y="38.2" textLength="98.5" lengthAdjust="spacingAndGlyphs">04:54</text>
<text x="658.2" y="38.2" textLength="69.5" lengthAdjust="spacingAndGlyphs">UTC</text>
</g>
<g font-weight="bold" font-size="19">
<text x="284.2" y="122.7" textLength="26.5" lengthAdjust="spacingAndGlyphs">16</text>
<text x="318.6" y="122.7" textLength="32" lengthAdjust="spacingAndGlyphs">km</text>
<text x="404.3" y="317.8" textLength="13.6" lengthAdjust="spacingAndGlyphs">8</text>
<text x="424.9" y="317.8" textLength="32" lengthAdjust="spacingAndGlyphs">km</text>
</g>
<rect x="1055.5" y="964.23" width="45" height="32.17" fill="#6476AA"/>
<rect x="1055.5" y="932.05" width="45" height="32.57" fill="#5368A6"/>
<rect x="1055.5" y="899.88" width="45" height="32.57" fill="#425EA4"/>
<rect x="1055.5" y="867.70" width="45" height="32.57" fill="#4A7AB2"/>
<rect x="1055.5" y="835.52" width="45" height="32.57" fill="#589EC8"/>
<rect x="1055.5" y="803.35" width="45" height="32.57" fill="#64C0DC"/>
<rect x="1055.5" y="771.17" width="45" height="32.57" fill="#64D6C4"/>
<rect x="1055.5" y="739.00" width="45" height="32.57" fill="#40D66C"/>
<rect x="1055.5" y="706.83" width="45" height="32.57" fill="#14C81E"/>
<rect x="1055.5" y="674.65" width="45" height="32.57" fill="#14B41E"/>
<rect x="1055.5" y="642.48" width="45" height="32.57" fill="#12A21A"/>
<rect x="1055.5" y="610.30" width="45" height="32.57" fill="#108C16"/>
<rect x="1055.5" y="578.12" width="45" height="32.57" fill="#0C7810"/>
<rect x="1055.5" y="545.95" width="45" height="32.57" fill="#08600C"/>
<rect x="1055.5" y="513.78" width="45" height="32.57" fill="#467C0A"/>
<rect x="1055.5" y="481.60" width="45" height="32.57" fill="#AEB408"/>
<rect x="1055.5" y="449.43" width="45" height="32.57" fill="#FFD800"/>
<rect x="1055.5" y="417.25" width="45" height="32.57" fill="#FFB400"/>
<rect x="1055.5" y="385.08" width="45" height="32.57" fill="#FF9800"/>
<rect x="1055.5" y="352.90" width="45" height="32.57" fill="#FF7E00"/>
<rect x="1055.5" y="320.73" width="45" height="32.57" fill="#E00000"/>
<rect x="1055.5" y="288.55" width="45" height="32.57" fill="#C00000"/>
<rect x="1055.5" y="256.38" width="45" height="32.57" fill="#9C0000"/>
<rect x="1055.5" y="224.20" width="45" height="32.57" fill="#7A0000"/>
<rect x="1055.5" y="192.03" width="45" height="32.57" fill="#FFE0FF"/>
<rect x="1055.5" y="159.85" width="45" height="32.57" fill="#FFB0FF"/>
<rect x="1055.5" y="127.68" width="45" height="32.57" fill="#FF68FF"/>
<rect x="1055.5" y="95.50" width="45" height="32.57" fill="#EB37EB"/>
<rect x="1055.5" y="95.5" width="45" height="900.9" fill="none" stroke="#000" stroke-width="1.1"/>
<g stroke="#000" stroke-width="1.1">
<path d="M1100.5 996.4 h4.9"/>
<path d="M1100.5 867.7 h4.9"/>
<path d="M1100.5 739 h4.9"/>
<path d="M1100.5 610.3 h4.9"/>
<path d="M1100.5 481.6 h4.9"/>
<path d="M1100.5 352.9 h4.9"/>
<path d="M1100.5 224.2 h4.9"/>
<path d="M1100.5 95.5 h4.9"/>
</g>
<g font-size="29">
<text x="1111.6" y="1006.6" textLength="15.6" lengthAdjust="spacingAndGlyphs">0</text>
<text x="1110.8" y="877.9" textLength="33.6" lengthAdjust="spacingAndGlyphs">10</text>
<text x="1110.8" y="749.2" textLength="33.6" lengthAdjust="spacingAndGlyphs">20</text>
<text x="1110.8" y="620.5" textLength="33.6" lengthAdjust="spacingAndGlyphs">30</text>
<text x="1110.8" y="491.8" textLength="33.6" lengthAdjust="spacingAndGlyphs">40</text>
<text x="1110.8" y="363.1" textLength="33.6" lengthAdjust="spacingAndGlyphs">50</text>
<text x="1110.8" y="234.4" textLength="33.6" lengthAdjust="spacingAndGlyphs">60</text>
<text x="1110.8" y="105.7" textLength="33.6" lengthAdjust="spacingAndGlyphs">70</text>
</g>
<text transform="translate(1173.6 548.8) rotate(-90)" font-size="29" text-anchor="middle" textLength="54.5" lengthAdjust="spacingAndGlyphs">dBZ</text>
</svg>
</body></html>
